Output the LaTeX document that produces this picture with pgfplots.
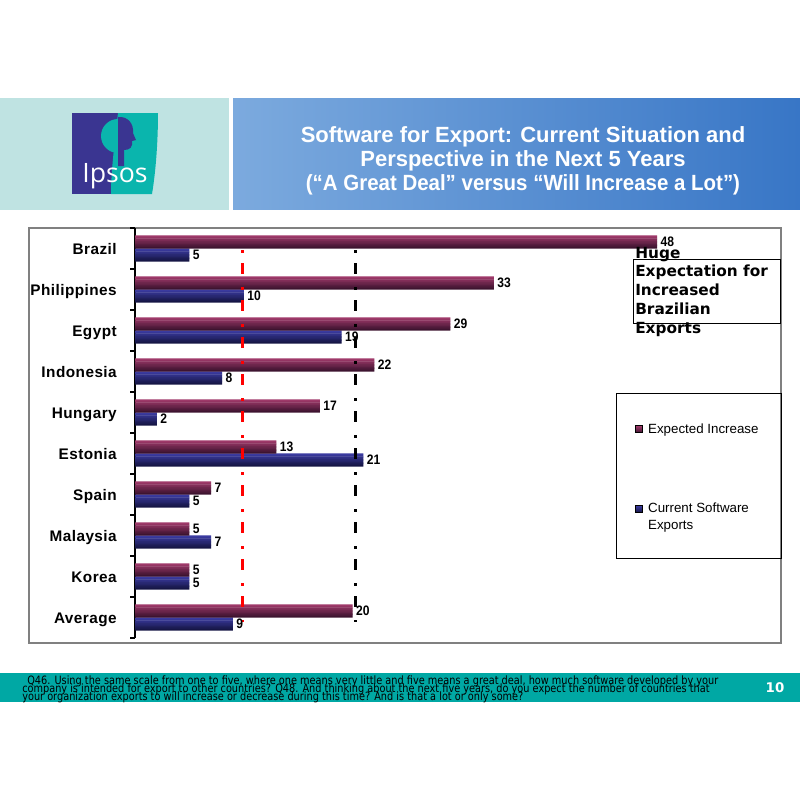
\documentclass[border=0pt]{standalone}
\usepackage{fontspec}
\setmainfont{Liberation Sans}
\newfontfamily\catfont[LetterSpace=3]{Liberation Sans}
\newfontfamily\valfont[FakeStretch=0.88]{Liberation Sans}
\newfontfamily\titlenarrow[FakeStretch=0.93]{Liberation Sans}
\newfontfamily\annfont{DejaVu Sans}
\newfontfamily\footfont[FakeStretch=0.85]{DejaVu Sans}
\newfontfamily\logofont{Open Sans}
\usepackage{pgfplots}
\usepackage{pgfplotstable}
\pgfplotsset{compat=1.18}

\definecolor{hdrleft}{RGB}{191,227,226}
\definecolor{hdrblueL}{RGB}{124,170,222}
\definecolor{hdrblueR}{RGB}{56,118,198}
\definecolor{logopurple}{RGB}{58,53,145}
\definecolor{logoteal}{RGB}{10,181,173}
\definecolor{footteal}{RGB}{0,168,164}
\definecolor{marTop}{RGB}{160,58,106}
\definecolor{marBot}{RGB}{62,20,48}
\definecolor{navTop}{RGB}{60,60,162}
\definecolor{navBot}{RGB}{22,22,70}

% 9 colour slices per bar, to fake the vertical gradient of each bar
\foreach \i in {0,...,8}{%
  \pgfmathtruncatemacro\p{\i*100/8}%
  \xglobal\colorlet{mar\i}{marBot!\p!marTop}%
  \xglobal\colorlet{nav\i}{navBot!\p!navTop}%
}

% y: 0 = Average (bottom) ... 9 = Brazil (top)
\pgfplotstableread{
y exp cur
0 20 9
1 5  5
2 5  7
3 7  5
4 13 21
5 17 2
6 22 8
7 29 19
8 33 10
9 48 5
}\survey

\begin{document}
\begin{tikzpicture}
\begin{scope}[x=0.75pt,y=-0.75pt]
  \path[use as bounding box] (0,0) rectangle (800,800);
  \fill[white] (0,0) rectangle (800,800);
  % header band
  \fill[hdrleft] (0,98) rectangle (229,210);
  \shade[left color=hdrblueL, right color=hdrblueR] (233,98) rectangle (800,209);
  % logo
  \fill[logopurple] (72,113) rectangle (118,194);
  \fill[logoteal] (118,113) .. controls (115,140) and (111,170) .. (111,194)
     -- (152,194) .. controls (156,170) and (158,140) .. (158,113) -- cycle;
  \fill[logoteal] (118,153) arc (90:270:17) -- cycle;
  \fill[logopurple] (118,117) .. controls (128,116) and (134,124) .. (133,133)
     -- (136,140) -- (132,141) .. controls (133,147) and (130,150) .. (124,150)
     -- (124,166) -- (118,166) -- cycle;
  \node[white, anchor=base, inner sep=0, font=\logofont\fontsize{20}{20}\selectfont] at (115,182) {Ipsos};
  % title
  \node[white, align=center, font=\bfseries\fontsize{16.5}{18}\selectfont] at (523,161)
    {Software for Export: Current Situation and\\Perspective in the Next 5 Years\\{\titlenarrow\bfseries(“A Great Deal” versus “Will Increase a Lot”)}};
  % chart frame
  \draw[black!50, line width=1.1pt] (29,228) rectangle (781,643);
  % footer
  \fill[footteal] (0,673) rectangle (800,702);
  \begin{scope}[every node/.style={anchor=base west, inner sep=0, font=\footfont\fontsize{8.6}{6}\selectfont}]
    \node at (27,684) {Q46. Using the same scale from one to five, where one means very little and five means a great deal, how much software developed by your};
    \node at (22,692) {company is intended for export to other countries? Q48. And thinking about the next five years, do you expect the number of countries that};
    \node at (22,700) {your organization exports to will increase or decrease during this time? And is that a lot or only some?};
  \end{scope}
  \node[white, font=\annfont\bfseries\fontsize{10}{10}\selectfont] at (775,688) {10};
\end{scope}

\begin{axis}[
  at={(101.25pt,-478.5pt)}, anchor=south west,
  scale only axis,
  width=483.75pt, height=307.5pt,
  xmin=0, xmax=59.31,
  ymin=-0.5, ymax=9.5,
  axis x line=none,
  axis y line*=left,
  axis line style={black, line width=0.8pt},
  ytick={0,...,9},
  yticklabels={Average,Korea,Malaysia,Spain,Estonia,Hungary,Indonesia,Egypt,Philippines,Brazil},
  minor ytick={-0.5,0.5,...,9.5},
  tick align=outside,
  major tick length=0pt,
  minor tick length=3.5pt,
  minor tick style={black, line width=0.8pt},
  yticklabel style={font=\catfont\bfseries\fontsize{11.5}{12}\selectfont, inner sep=0pt,
    text height=8.3pt, text depth=0pt, anchor=east, xshift=-13.5pt},
  /pgf/number format/assume math mode=true,
  clip=false,
  legend style={at={(0.769,0.5366)}, anchor=north west, draw=none, fill=none,
    font=\fontsize{10}{12}\selectfont, row sep=47pt, column sep=2pt,
    cells={anchor=base west}},
]
% bars, drawn in 9 overlapping thin slices each (light on top, dark below)
\pgfplotsinvokeforeach{0,...,8}{
  \addplot[forget plot, xbar, draw=none, fill=mar#1, bar width=0.042,
    bar shift={0.317-(#1+0.5)*0.03522}] table[x=exp, y=y] {\survey};
  \addplot[forget plot, xbar, draw=none, fill=nav#1, bar width=0.042,
    bar shift={-(#1+0.5)*0.03522}] table[x=cur, y=y] {\survey};
}
% value labels
\addplot[forget plot, xbar, draw=none, fill=none, bar width=0.01, bar shift=0,
  nodes near coords, nodes near coords style={font=\valfont\bfseries\fontsize{10.3}{10}\selectfont, black, inner sep=2.5pt, yshift=4.9pt}]
  table[x=exp, y=y] {\survey};
\addplot[forget plot, xbar, draw=none, fill=none, bar width=0.01, bar shift=0,
  nodes near coords, nodes near coords style={font=\valfont\bfseries\fontsize{10.3}{10}\selectfont, black, inner sep=2.5pt, yshift=-4.9pt}]
  table[x=cur, y=y] {\survey};
% reference lines
\addplot[forget plot, sharp plot, no marks, red, line width=2.25pt,
  dash pattern=on 2.25pt off 7.5pt on 8.25pt off 9.75pt] coordinates {(9.84,8.96) (9.84,-0.11)};
\addplot[forget plot, sharp plot, no marks, black, line width=2.25pt,
  dash pattern=on 2.25pt off 7.5pt on 8.25pt off 9.75pt] coordinates {(20.3,8.96) (20.3,-0.11)};
% legend
\addlegendimage{legend image code/.code={\shade[top color=marTop, bottom color=marBot] (0pt,0.4pt) rectangle (5.25pt,5.65pt);}}
\addlegendentry{Expected Increase}
\addlegendimage{legend image code/.code={\shade[top color=navTop, bottom color=navBot] (0pt,0.4pt) rectangle (5.25pt,5.65pt);}}
\addlegendentry{\vtop{\baselineskip=12.75pt\hbox{Current Software}\hbox{Exports}}}
\end{axis}

\begin{scope}[x=0.75pt,y=-0.75pt]
  \draw[black, line width=0.75pt] (616,393) rectangle (781,558);
  \draw[black, line width=0.75pt] (633,259) rectangle (780,323);
  \node[anchor=base west, inner sep=0] at (635,258)
    {\annfont\bfseries\fontsize{11.5}{14.1}\selectfont\vtop{\hbox{Huge}\hbox{Expectation for}\hbox{Increased}\hbox{Brazilian}\hbox{Exports}}};
\end{scope}
\end{tikzpicture}
\end{document}
